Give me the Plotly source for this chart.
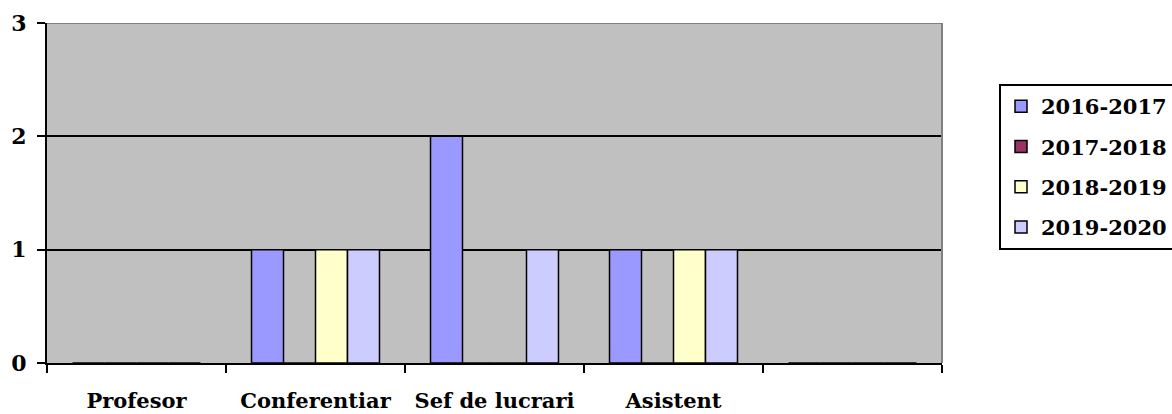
import plotly.graph_objects as go

categories = ["Profesor", "Conferentiar", "Sef de lucrari", "Asistent", " "]
series_names = ["2016-2017", "2017-2018", "2018-2019", "2019-2020"]
v2016_2017 = [0, 1, 2, 1, 0]
v2017_2018 = [0, 0, 0, 0, 0]
v2018_2019 = [0, 1, 0, 1, 0]
v2019_2020 = [0, 1, 1, 1, 0]
y_ticks = [0, 1, 2, 3]

colors = ["#9999FF", "#993366", "#FFFFCC", "#CCCCFF"]
values = [v2016_2017, v2017_2018, v2018_2019, v2019_2020]

FONT = "DejaVu Serif"

fig = go.Figure()
for i, (name, vals) in enumerate(zip(series_names, values)):
    fig.add_trace(go.Bar(
        x=categories, y=vals, name=name,
        marker=dict(color=colors[i], line=dict(color="black", width=1.5)),
        legendgroup=name,
    ))

fig.update_layout(
    width=1172, height=414,
    margin=dict(l=47, r=230, t=23, b=51),
    paper_bgcolor="white",
    plot_bgcolor="#C0C0C0",
    barmode="group",
    bargap=0.285,
    bargroupgap=0,
    font=dict(family=FONT, size=16, color="black"),
    legend=dict(
        xref="container", yref="container",
        x=999 / 1172, y=1 - 84 / 414, xanchor="left", yanchor="top",
        bordercolor="black", borderwidth=2,
        font=dict(family=FONT, size=21, color="black", weight="bold"),
        tracegroupgap=10, itemwidth=30,
        traceorder="grouped",
    ),
    xaxis=dict(
        type="category",
        automargin=False,
        tickson="boundaries",
        tickangle=0,
        ticks="outside", ticklen=8, tickwidth=2, tickcolor="black",
        showline=True, linecolor="black", linewidth=2,
        showgrid=False,
        tickfont=dict(family=FONT, size=21, color="black", weight="bold"),
        ticklabelstandoff=18,
    ),
    yaxis=dict(
        range=[0, 3],
        automargin=False,
        tickvals=y_ticks,
        ticks="outside", ticklen=8, tickwidth=2, tickcolor="black",
        showline=True, linecolor="black", linewidth=2,
        showgrid=True, gridcolor="black", gridwidth=1.5,
        zeroline=False,
        tickfont=dict(family=FONT, size=22, color="black", weight="bold"),
        ticklabelstandoff=6,
    ),
    shapes=[
        dict(type="line", xref="paper", yref="y", x0=0, x1=1, y0=3, y1=3,
             line=dict(color="#808080", width=2)),
        dict(type="line", xref="paper", yref="paper", x0=1, x1=1, y0=0, y1=1,
             line=dict(color="#808080", width=2)),
    ],
)

fig.write_html("out.html", config={"displayModeBar": False},
               post_script="document.body.style.margin='0';")
